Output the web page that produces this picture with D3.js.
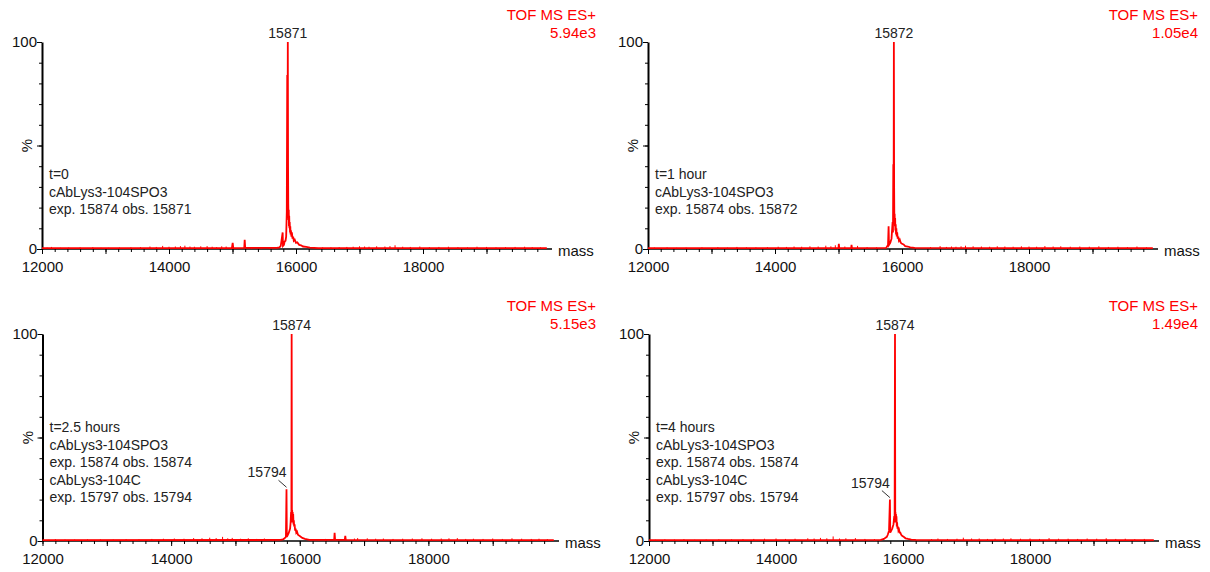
<!DOCTYPE html>
<html>
<head>
<meta charset="utf-8">
<script src="https://cdnjs.cloudflare.com/ajax/libs/d3/7.8.5/d3.min.js"></script>
<style>
body { margin: 0; background: #fff; }
text { font-family: "Liberation Sans", Arial, sans-serif; }
</style>
</head>
<body>
<svg id="chart" width="1210" height="572"></svg>
<script>
// spectra, % of base peak vs mass
var specT0 = [[12000,0.4],[14990,0.4],[15003,3],[15012,0.4],[15185,0.5],[15192,4.5],[15200,0.6],[15700,0.5],[15740,0.8],[15760,1.5],[15790,8],[15795,1.5],[15810,2],[15820,3.5],[15835,4],[15845,6],[15855,18],[15862,84],[15866,30],[15871,100],[15875,40],[15878,22],[15882,14],[15886,19],[15889,11],[15893,16],[15897,10],[15901,13],[15906,8],[15910,11],[15915,7],[15920,9],[15928,6],[15935,8],[15945,5],[15955,6],[15965,4],[15980,4.5],[16000,3],[16020,3.2],[16050,2],[16080,1.8],[16110,1.2],[16160,1],[16220,0.7],[16350,0.4],[19950,0.4]];
var specT1 = [[12000,0.4],[15000,0.4],[15005,2.5],[15012,0.4],[15200,0.4],[15205,2],[15212,0.4],[15750,0.5],[15780,2],[15789,11],[15795,2],[15815,3],[15835,5],[15852,13],[15858,8],[15863,41],[15868,15],[15872,100],[15876,30],[15880,12],[15884,17],[15888,11],[15892,15],[15896,9],[15901,12],[15906,7],[15911,10],[15917,6],[15924,8],[15932,5],[15942,6],[15952,4],[15965,4.5],[15980,3],[16000,2.5],[16025,2.2],[16050,1.4],[16090,1.2],[16130,0.8],[16200,0.5],[19950,0.4]];
var specT25 = [[12000,0.4],[15700,0.5],[15740,0.8],[15760,1.2],[15785,2],[15794,25],[15799,2],[15815,3],[15830,4],[15850,6],[15858,9],[15865,14],[15870,9],[15874,100],[15878,12],[15882,15],[15886,10],[15890,14],[15894,9],[15898,13],[15903,8],[15908,10],[15913,7],[15920,8],[15928,5],[15936,6],[15946,4],[15958,4.5],[15972,3],[15990,2.6],[16010,2.2],[16040,1.5],[16080,1],[16150,0.5],[16535,0.5],[16542,4],[16550,0.5],[16700,0.5],[16708,2.5],[16716,0.5],[19950,0.4]];
var specT4 = [[12000,0.4],[15650,0.5],[15700,1],[15720,1.5],[15745,2],[15760,3],[15780,5],[15794,20],[15799,4],[15815,5],[15830,6],[15850,8],[15862,12],[15868,9],[15874,100],[15878,10],[15881,14],[15885,9],[15889,13],[15893,10],[15897,12],[15902,7],[15907,9],[15913,6],[15920,7],[15928,5],[15937,5.5],[15947,4],[15958,4],[15972,3],[15990,2.4],[16010,2],[16040,1.3],[16080,1],[16130,0.7],[16200,0.5],[19950,0.4]];

// baseline noise spikes (mass, %)
var noiseT0 = [[12080,0.7],[12150,1],[12290,0.6],[12420,0.7],[12600,0.8],[12800,0.9],[12930,0.6],[13050,0.6],[13220,0.7],[13400,0.8],[13550,0.9],[13700,1.2],[13800,1],[13900,1.5],[14000,1.1],[14100,1.2],[14180,1.4],[14250,1.6],[14330,1.2],[14400,1.1],[14500,1.3],[14600,1.4],[14680,1.1],[14750,0.9],[14830,1.3],[14900,1.2],[15300,0.8],[15450,0.9],[15580,0.8],[16420,0.8],[16550,0.8],[16680,0.9],[16800,1],[16900,1.1],[17000,1.3],[17080,1.2],[17150,1.1],[17270,1.3],[17400,1.2],[17480,1.4],[17560,1.8],[17680,1.1],[17800,1],[17950,1.2],[18100,0.9],[18250,1],[18400,1.1],[18550,0.9],[18700,0.8],[18850,1.1],[19000,1],[19150,0.8],[19300,0.9],[19450,1],[19600,1.1],[19720,0.9],[19850,0.8]];
var noiseT1 = [[12100,0.7],[12300,0.8],[12450,0.6],[12600,0.7],[12850,0.8],[13100,0.9],[13250,0.7],[13400,1],[13550,0.8],[13700,0.8],[13880,0.9],[14050,1.1],[14180,1],[14300,1.2],[14420,1.1],[14550,1.3],[14680,1.2],[14800,1.6],[14880,1.3],[14950,1.8],[15100,1.2],[15300,1.5],[15450,0.9],[15600,0.8],[16450,0.9],[16600,1.4],[16700,1],[16780,1.2],[16850,1.1],[16930,1.3],[17000,1.6],[17120,1.3],[17250,1.2],[17380,1.1],[17500,1.3],[17620,1.2],[17750,1.1],[17880,1.3],[18000,1.2],[18120,1.1],[18250,1.4],[18380,1.2],[18500,1.3],[18650,1.1],[18800,1.2],[18950,1.1],[19100,1.3],[19250,1],[19400,1.1],[19550,0.9],[19700,1.2],[19850,0.8]];
var noiseT25 = [[12100,0.6],[12200,0.9],[12350,0.7],[12500,0.7],[12700,0.8],[12900,0.8],[13100,0.7],[13300,0.9],[13500,0.8],[13700,1],[13880,1.1],[14050,1.2],[14200,1.1],[14350,1.4],[14480,1.3],[14600,1.6],[14700,1.4],[14800,2],[14880,1.3],[14950,1.5],[15080,1.1],[15200,1.3],[15330,1],[15450,1.2],[15580,0.9],[16300,0.9],[16400,1],[16850,1.2],[16900,1.4],[17050,1.3],[17180,1.1],[17300,1.2],[17450,1],[17600,1.1],[17750,1.2],[17900,1.3],[18050,1.1],[18200,1.2],[18320,1.3],[18450,1.4],[18580,1],[18700,1.1],[18850,1],[19000,1.2],[19150,1],[19300,1.3],[19450,1.1],[19600,1],[19720,1.1],[19850,0.9]];
var noiseT4 = [[12100,0.6],[12250,0.8],[12400,0.7],[12550,0.9],[12720,0.6],[12900,0.7],[13100,0.8],[13300,0.8],[13480,0.9],[13650,1],[13820,1.1],[14000,1.2],[14150,1],[14300,1.1],[14500,1.3],[14600,1.2],[14700,1.5],[14800,1.3],[14900,2.2],[15000,1.2],[15100,1.3],[15250,1.4],[15400,1],[15550,0.9],[16450,0.9],[16550,1.2],[16700,1],[16850,1.1],[16950,1.6],[17080,1.2],[17200,1.2],[17330,1],[17450,1.1],[17580,1.2],[17700,1.3],[17850,1.1],[18000,1.2],[18150,1],[18300,1.4],[18450,1.1],[18600,1.1],[18750,1],[18900,1.2],[19050,1.1],[19200,1.3],[19350,1],[19500,1.1],[19650,0.9],[19800,1]];

var timeLabels = ["t=0", "t=1 hour", "t=2.5 hours", "t=4 hours"];
var intensities = ["5.94e3", "1.05e4", "5.15e3", "1.49e4"];
var mainPeaks = [[15871,100],[15872,100],[15874,100],[15874,100]];
var minorPeaks = [null, null, [15794,25], [15794,20]];
var notes = [
  ["cAbLys3-104SPO3", "exp. 15874 obs. 15871"],
  ["cAbLys3-104SPO3", "exp. 15874 obs. 15872"],
  ["cAbLys3-104SPO3", "exp. 15874 obs. 15874", "cAbLys3-104C", "exp. 15797 obs. 15794"],
  ["cAbLys3-104SPO3", "exp. 15874 obs. 15874", "cAbLys3-104C", "exp. 15797 obs. 15794"]
];
var xTickLabels = [12000, 14000, 16000, 18000];
var spectra = [specT0, specT1, specT25, specT4];
var noises = [noiseT0, noiseT1, noiseT25, noiseT4];

// panel boxes
var boxes = [
  {x0: 42, x1: 550, y0: 249, y1: 42, right: 596, top: 20},
  {x0: 648, x1: 1156, y0: 249, y1: 42, right: 1198, top: 20},
  {x0: 42.5, x1: 557, y0: 541, y1: 334, right: 596, top: 311},
  {x0: 649, x1: 1157, y0: 541, y1: 334, right: 1198, top: 311}
];

var svg = d3.select("#chart");
var red = "#ff0000";

boxes.forEach(function(b, i) {
  var x = d3.scaleLinear().domain([12000, 20000]).range([b.x0, b.x1]);
  var y = d3.scaleLinear().domain([0, 100]).range([b.y0, b.y1]);
  var g = svg.append("g");

  // header
  g.append("text").attr("x", b.right).attr("y", b.top).attr("text-anchor", "end")
    .attr("fill", red).style("font-size", "15px").text("TOF MS ES+");
  g.append("text").attr("x", b.right).attr("y", b.top + 17.5).attr("text-anchor", "end")
    .attr("fill", red).style("font-size", "15px").text(intensities[i]);

  // x axis: minor every 200, major every 1000
  var minor = d3.range(12000, 20000, 200);
  var major = d3.range(12000, 20000, 1000);
  g.append("g").attr("transform", "translate(0," + b.y0 + ")")
    .call(d3.axisBottom(x).tickValues(minor).tickSize(3).tickFormat(""))
    .call(function(a) { a.select(".domain").remove(); a.selectAll("line").attr("stroke", "#000"); });
  var xa = g.append("g").attr("transform", "translate(0," + b.y0 + ")")
    .call(d3.axisBottom(x).tickValues(major).tickSize(5).tickSizeOuter(0)
      .tickFormat(function(d) { return xTickLabels.indexOf(d) >= 0 ? d : ""; }));
  xa.select(".domain").attr("stroke", "#000").attr("stroke-width", 1.5)
    .attr("d", "M" + b.x0 + ",0H" + (b.x1 + 2));
  xa.selectAll("line").attr("stroke", "#000");
  xa.selectAll("text").style("font-size", "15px").attr("fill", "#111").attr("dy", "1.0em");

  g.append("text").attr("x", b.x1 + 8).attr("y", b.y0 + 7).style("font-size", "15px")
    .attr("fill", "#111").text("mass");

  // y axis
  g.append("g").attr("transform", "translate(" + b.x0 + ",0)")
    .call(d3.axisLeft(y).tickValues(d3.range(0, 101, 10)).tickSize(3).tickFormat(""))
    .call(function(a) { a.select(".domain").remove(); a.selectAll("line").attr("stroke", "#000"); });
  var ya = g.append("g").attr("transform", "translate(" + b.x0 + ",0)")
    .call(d3.axisLeft(y).tickValues([0, 50, 100]).tickSize(5).tickSizeOuter(0)
      .tickFormat(function(d) { return d === 50 ? "" : d; }));
  ya.select(".domain").attr("stroke", "#000").attr("stroke-width", 2);
  ya.selectAll("line").attr("stroke", "#000");
  ya.selectAll("text").style("font-size", "15px").attr("fill", "#111").attr("x", -5);
  g.append("text").attr("transform", "translate(" + (b.x0 - 10) + "," + y(50) + ") rotate(-90)")
    .attr("text-anchor", "middle").style("font-size", "15px").attr("fill", "#111").text("%");

  // noise sticks
  g.selectAll(".noise").data(noises[i]).enter().append("line")
    .attr("x1", function(d) { return x(d[0]); }).attr("x2", function(d) { return x(d[0]); })
    .attr("y1", y(0)).attr("y2", function(d) { return y(d[1]); })
    .attr("stroke", red).attr("stroke-width", 1);

  // spectrum
  var line = d3.line().x(function(d) { return x(d[0]); }).y(function(d) { return y(d[1]); });
  g.append("path").datum(spectra[i]).attr("d", line)
    .attr("fill", "none").attr("stroke", red).attr("stroke-width", 1.8).attr("stroke-linejoin", "miter");

  // peak labels
  var mp = mainPeaks[i];
  g.append("text").attr("x", x(mp[0])).attr("y", y(mp[1]) - 4).attr("text-anchor", "middle")
    .style("font-size", "14px").attr("fill", "#222").text(mp[0]);
  var sp = minorPeaks[i];
  if (sp) {
    g.append("text").attr("x", x(sp[0])).attr("y", y(sp[1]) - 12).attr("text-anchor", "end")
      .style("font-size", "14px").attr("fill", "#222").text(sp[0]);
    g.append("line").attr("x1", x(sp[0]) - 8).attr("y1", y(sp[1]) - 9)
      .attr("x2", x(sp[0])).attr("y2", y(sp[1]) - 2).attr("stroke", "#333").attr("stroke-width", 1);
  }

  // annotation block
  var lines = [timeLabels[i]].concat(notes[i]);
  var ty = i < 2 ? 179 : 432;
  g.selectAll(".note").data(lines).enter().append("text")
    .attr("x", b.x0 + 7).attr("y", function(d, k) { return ty + k * 17.6; })
    .style("font-size", "14px").attr("fill", "#222").text(function(d) { return d; });
});
</script>
</body>
</html>
